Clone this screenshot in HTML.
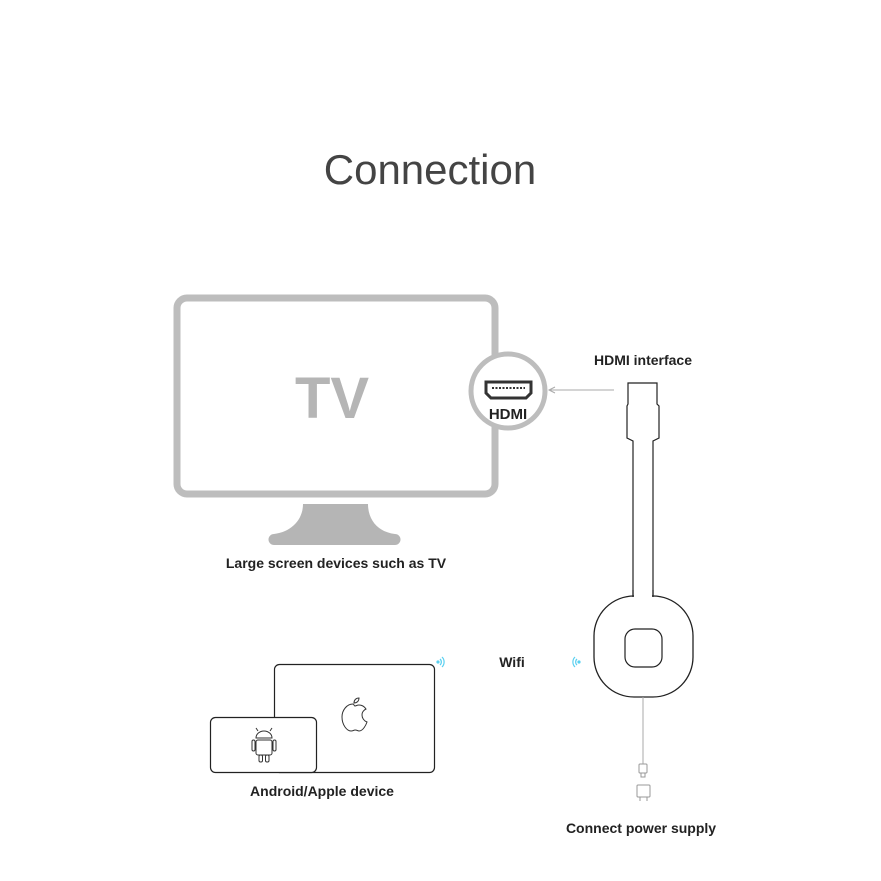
<!DOCTYPE html>
<html><head><meta charset="utf-8"><style>
html,body{margin:0;padding:0;background:#fff;}
svg{display:block}
text{font-family:"Liberation Sans",sans-serif;}
</style></head><body>
<svg width="881" height="881" viewBox="0 0 881 881" xmlns="http://www.w3.org/2000/svg">
<text x="430" y="184" text-anchor="middle" font-size="42" fill="#444">Connection</text>
<!-- TV -->
<rect x="177" y="298" width="318" height="196" rx="10" fill="none" stroke="#bdbdbd" stroke-width="7"/>
<text x="332" y="418" text-anchor="middle" font-size="58" font-weight="bold" fill="#b5b5b5">TV</text>
<path d="M303 504 H368 C368 520 378 532 395 534 A5.5 5.5 0 0 1 395 545 H274 A5.5 5.5 0 0 1 274 534 C291 532 303 520 303 504 Z" fill="#b5b5b5"/>
<circle cx="508" cy="391" r="37" fill="#fff" stroke="#bdbdbd" stroke-width="5"/>
<path d="M486 382 H531 V393 L526 398 H491 L486 393 Z" fill="none" stroke="#333" stroke-width="3"/>
<line x1="492" y1="388" x2="525" y2="388" stroke="#333" stroke-width="2" stroke-dasharray="2 1.5"/>
<text x="508" y="419" text-anchor="middle" font-size="15" font-weight="bold" fill="#222">HDMI</text>
<line x1="614" y1="390" x2="550" y2="390" stroke="#aaa" stroke-width="1"/>
<path d="M555 387 L549 390 L555 393" fill="none" stroke="#aaa" stroke-width="1"/>
<text x="643" y="365" text-anchor="middle" font-size="14" font-weight="bold" fill="#222">HDMI interface</text>
<!-- dongle -->
<path d="M628 383 H657 V404 L659 406 V438 L653 441 V598 H633 V441 L627 438 V406 L628 404 Z" fill="#fff" stroke="#222" stroke-width="1.2"/>
<rect x="594" y="596" width="99" height="101" rx="40" fill="#fff" stroke="#222" stroke-width="1.3"/>
<rect x="634" y="590" width="18" height="10" fill="#fff"/>
<line x1="633" y1="590" x2="633" y2="597" stroke="#222" stroke-width="1.2"/>
<line x1="653" y1="590" x2="653" y2="597" stroke="#222" stroke-width="1.2"/>
<rect x="625" y="629" width="37" height="38" rx="10" fill="none" stroke="#222" stroke-width="1.2"/>
<line x1="643" y1="697" x2="643" y2="764" stroke="#aaa" stroke-width="1"/>
<rect x="639" y="764" width="8" height="9" rx="1" fill="none" stroke="#999"/>
<rect x="641" y="773" width="4" height="4" fill="none" stroke="#999"/>
<rect x="637" y="785" width="13" height="12" rx="1" fill="none" stroke="#999"/>
<line x1="640" y1="797" x2="640" y2="801" stroke="#999"/><line x1="647" y1="797" x2="647" y2="801" stroke="#999"/>
<text x="641" y="833" text-anchor="middle" font-size="14" font-weight="bold" fill="#222">Connect power supply</text>
<!-- wifi -->
<text x="512" y="667" text-anchor="middle" font-size="14" font-weight="bold" fill="#222">Wifi</text>
<g fill="none" stroke="#5ad0f0" stroke-width="1.2">
<circle cx="579" cy="662" r="1" fill="#5ad0f0"/>
<path d="M577 659 A4 4 0 0 0 577 665"/><path d="M575 657 A7 7 0 0 0 575 667"/>
<circle cx="438" cy="662" r="1" fill="#5ad0f0"/>
<path d="M440 659 A4 4 0 0 1 440 665"/><path d="M442 657 A7 7 0 0 1 442 667"/>
</g>
<!-- devices -->
<rect x="274.5" y="664.5" width="160" height="108" rx="5" fill="#fff" stroke="#222" stroke-width="1.2"/>
<rect x="210.5" y="717.5" width="106" height="55" rx="5" fill="#fff" stroke="#222" stroke-width="1.2"/>
<path d="M353 704 C347 704 342 710 342 717 C342 725 347 731 351 731 C353 731 354 730 355 730 C357 730 358 731 359 731 C363 731 366 725 367 722 C364 721 362 718 362 715 C362 712 364 710 366 709 C364 706 361 705 359 705 C357 705 356 706 355 706 C354 706 354 704 353 704 Z M354 703 C354 700 356 698 359 698 C359 701 357 703 354 703 Z" fill="none" stroke="#333" stroke-width="1"/>
<g fill="none" stroke="#333" stroke-width="1">
<path d="M256 738 A8 7 0 0 1 272 738 Z"/>
<line x1="258" y1="731" x2="256" y2="728"/><line x1="270" y1="731" x2="272" y2="728"/>
<rect x="256" y="740" width="16" height="15" rx="2"/>
<rect x="252" y="740" width="3" height="11" rx="1.5"/><rect x="273" y="740" width="3" height="11" rx="1.5"/>
<rect x="259" y="755" width="3.5" height="7" rx="1.5"/><rect x="265.5" y="755" width="3.5" height="7" rx="1.5"/>
</g>
<text x="322" y="796" text-anchor="middle" font-size="14" font-weight="bold" fill="#222">Android/Apple device</text>
<text x="336" y="568" text-anchor="middle" font-size="14" font-weight="bold" fill="#222">Large screen devices such as TV</text>
</svg>
</body></html>
